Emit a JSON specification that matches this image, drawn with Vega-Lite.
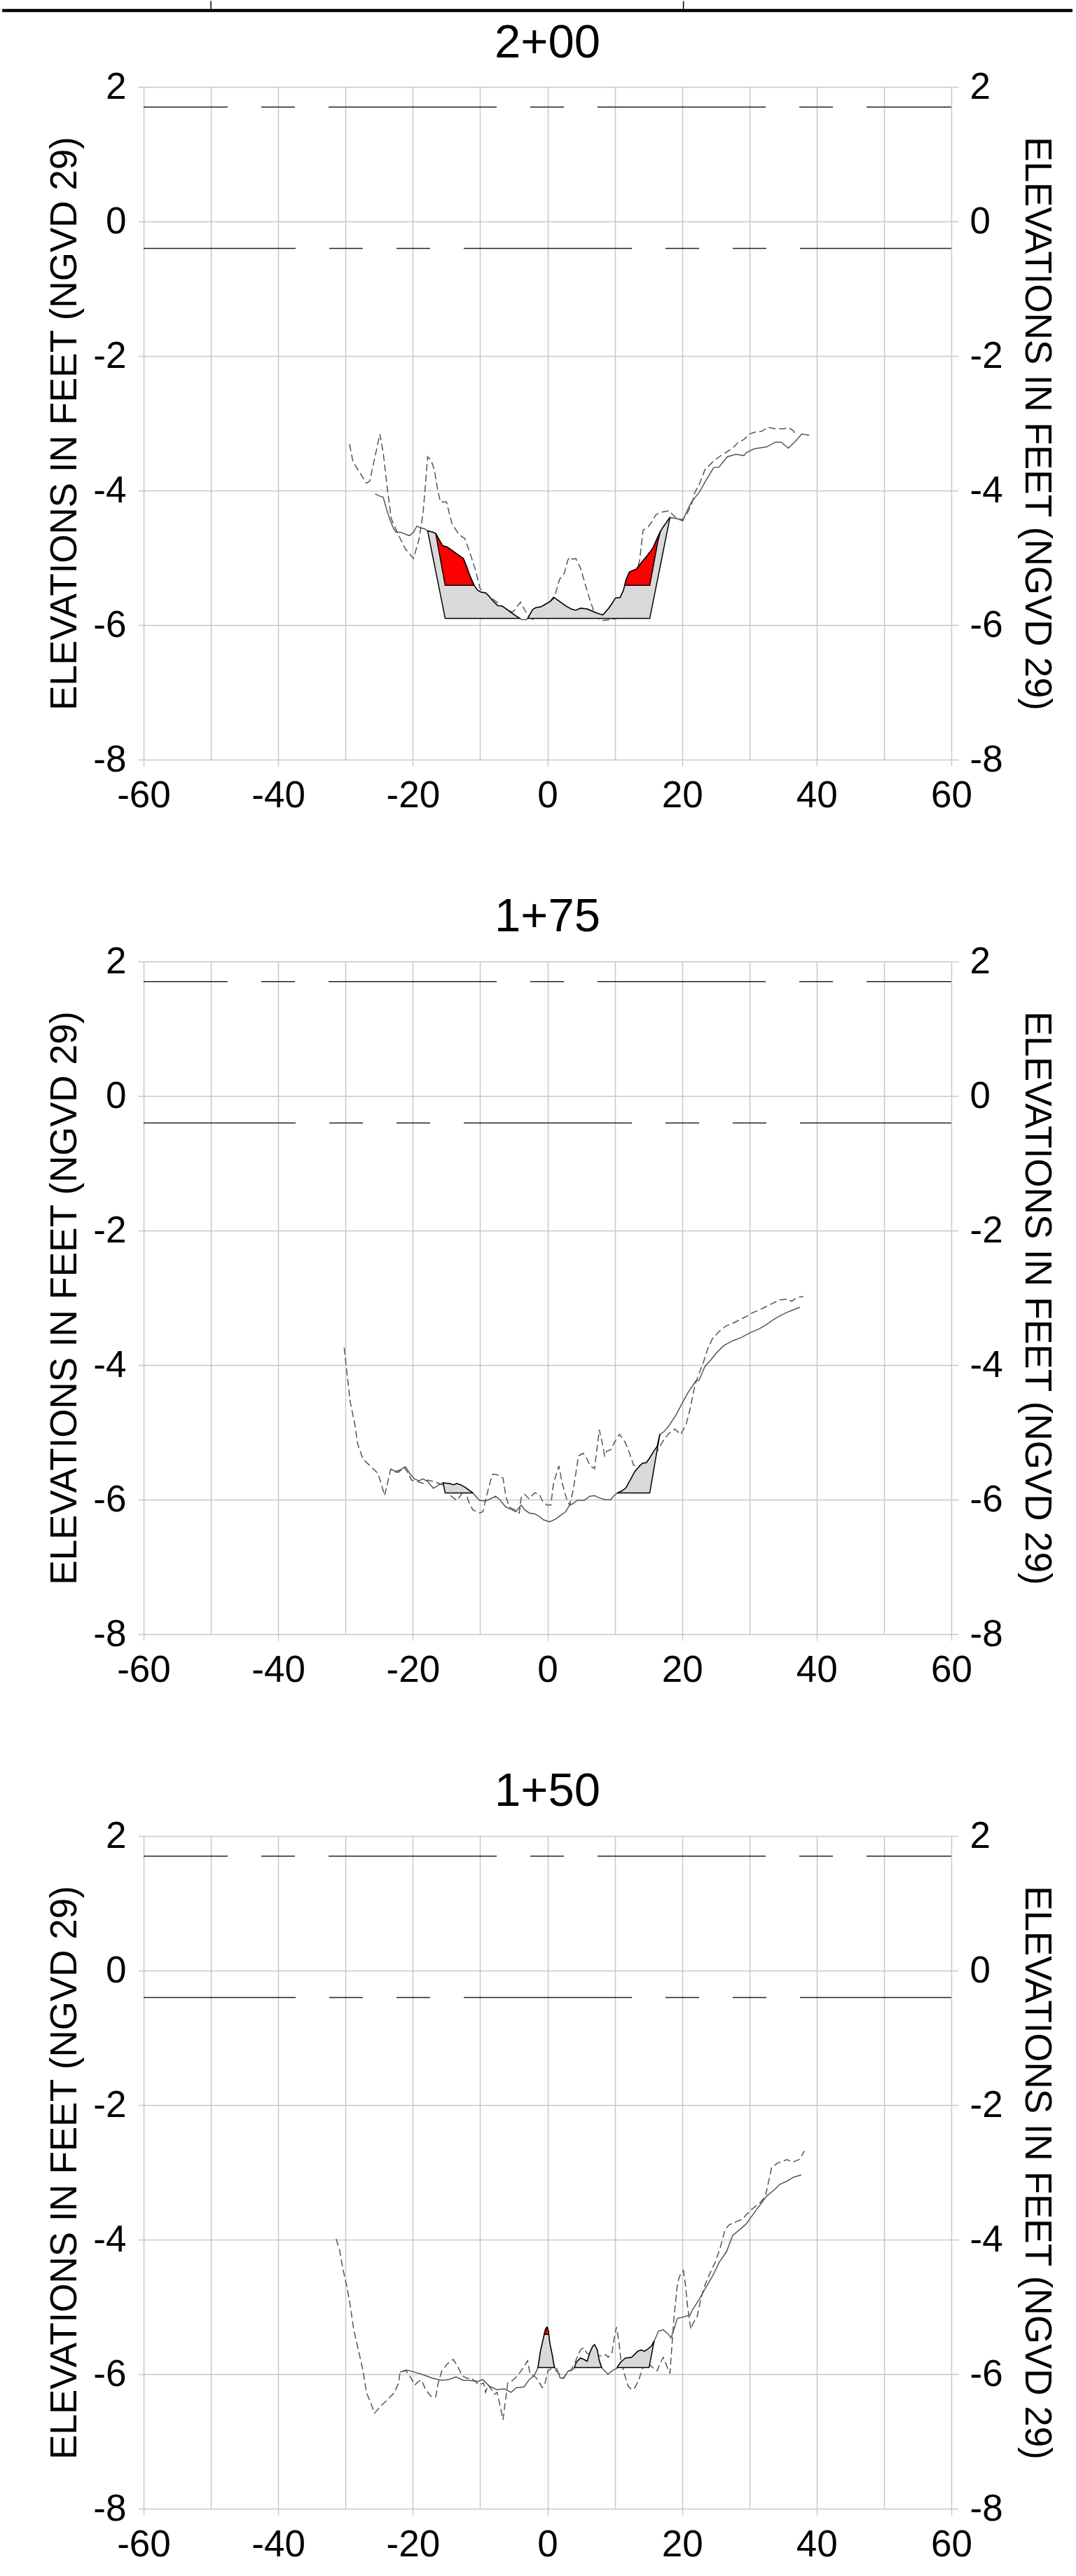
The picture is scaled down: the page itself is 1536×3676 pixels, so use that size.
{
"$schema": "https://vega.github.io/schema/vega-lite/v6.json",
"background": "white",
"padding": 0,
"spacing": 113,
"config": {
  "view": {"stroke": null},
  "font": "Liberation Sans",
  "axis": {"domain": false, "labelFont": "Liberation Sans", "labelFontSize": 53, "labelColor": "black", "titleFont": "Liberation Sans", "titleFontSize": 53, "titleFontWeight": "normal", "titleColor": "black", "gridColor": "#c8c8c8", "gridWidth": 1.5, "tickColor": "#c8c8c8", "tickWidth": 1.5, "labelFlush": false, "labelOverlap": false},
  "title": {"font": "Liberation Sans", "fontSize": 67, "fontWeight": "normal", "color": "black", "baseline": "alphabetic", "anchor": "middle", "frame": "group"}
},
"datasets": {
  "refA": [{"x": -60, "x2": 60, "y": 1.7}],
  "refB": [{"x": -60, "x2": 60, "y": -0.4}],
  "frameH": [{"x": -81.0, "x2": 78.0, "y": 3.135}],
  "frameV": [{"x": -50, "y": 3.276, "y2": 3.135}, {"x": 20.2, "y": 3.276, "y2": 3.135}],
  "p1dash": [{"x":-29.4,"y":-3.31},{"x":-28.9,"y":-3.57},{"x":-28.1,"y":-3.70},{"x":-26.9,"y":-3.89},{"x":-26.4,"y":-3.86},{"x":-24.9,"y":-3.16},{"x":-24.4,"y":-3.44},{"x":-23.75,"y":-4.0},{"x":-23.2,"y":-4.42},{"x":-22.0,"y":-4.69},{"x":-21.1,"y":-4.87},{"x":-20.5,"y":-4.94},{"x":-19.9,"y":-5.01},{"x":-19.1,"y":-4.73},{"x":-18.5,"y":-4.35},{"x":-18.2,"y":-4.0},{"x":-17.8,"y":-3.50},{"x":-17.3,"y":-3.55},{"x":-16.8,"y":-3.69},{"x":-16.3,"y":-4.0},{"x":-15.9,"y":-4.17},{"x":-15.0,"y":-4.17},{"x":-14.2,"y":-4.49},{"x":-13.3,"y":-4.63},{"x":-12.8,"y":-4.68},{"x":-12.3,"y":-4.71},{"x":-11.6,"y":-4.90},{"x":-10.7,"y":-5.18},{"x":-10.0,"y":-5.46},{"x":-8.0,"y":-5.62},{"x":-6.5,"y":-5.74},{"x":-5.2,"y":-5.81},{"x":-4.0,"y":-5.66},{"x":-3.3,"y":-5.79},{"x":-2.7,"y":-5.88},{"x":-1.9,"y":-5.93},{"x":1.1,"y":-5.56},{"x":1.8,"y":-5.32},{"x":2.5,"y":-5.23},{"x":3.0,"y":-5.04},{"x":3.3,"y":-4.99},{"x":3.7,"y":-5.02},{"x":4.2,"y":-5.01},{"x":4.9,"y":-5.15},{"x":5.4,"y":-5.32},{"x":6.1,"y":-5.56},{"x":6.8,"y":-5.77},{"x":7.7,"y":-5.91},{"x":8.0,"y":-5.93},{"x":8.5,"y":-5.93},{"x":9.8,"y":-5.91},{"x":11.0,"y":-5.89},{"x":12.2,"y":-5.55},{"x":13.0,"y":-5.28},{"x":13.7,"y":-5.04},{"x":14.2,"y":-4.59},{"x":14.9,"y":-4.55},{"x":15.6,"y":-4.45},{"x":16.1,"y":-4.36},{"x":17.0,"y":-4.32},{"x":18.1,"y":-4.30},{"x":18.6,"y":-4.36},{"x":19.3,"y":-4.42},{"x":20.1,"y":-4.43},{"x":20.7,"y":-4.35},{"x":21.4,"y":-4.21},{"x":21.9,"y":-4.03},{"x":22.6,"y":-3.90},{"x":23.4,"y":-3.69},{"x":24.3,"y":-3.60},{"x":24.8,"y":-3.55},{"x":25.5,"y":-3.50},{"x":26.4,"y":-3.44},{"x":27.4,"y":-3.38},{"x":28.3,"y":-3.29},{"x":29.2,"y":-3.24},{"x":30.0,"y":-3.16},{"x":30.9,"y":-3.13},{"x":31.8,"y":-3.12},{"x":32.8,"y":-3.06},{"x":33.7,"y":-3.08},{"x":35.1,"y":-3.08},{"x":35.9,"y":-3.07},{"x":36.5,"y":-3.11},{"x":36.9,"y":-3.17}],
  "p1solid": [{"x":-25.6,"y":-4.05},{"x":-25.0,"y":-4.08},{"x":-24.4,"y":-4.10},{"x":-23.9,"y":-4.28},{"x":-23.4,"y":-4.43},{"x":-22.9,"y":-4.56},{"x":-22.5,"y":-4.62},{"x":-21.8,"y":-4.62},{"x":-21.1,"y":-4.65},{"x":-20.5,"y":-4.67},{"x":-19.9,"y":-4.62},{"x":-19.4,"y":-4.53},{"x":-18.7,"y":-4.56},{"x":-18.2,"y":-4.57},{"x":-17.8,"y":-4.60},{"x":-17.0,"y":-4.62},{"x":-16.6,"y":-4.64},{"x":-16.1,"y":-4.73},{"x":-15.6,"y":-4.82},{"x":-14.9,"y":-4.84},{"x":-14.2,"y":-4.89},{"x":-13.5,"y":-4.94},{"x":-12.5,"y":-5.01},{"x":-12.1,"y":-5.11},{"x":-11.6,"y":-5.25},{"x":-10.9,"y":-5.41},{"x":-10.4,"y":-5.48},{"x":-9.9,"y":-5.51},{"x":-9.2,"y":-5.52},{"x":-8.6,"y":-5.58},{"x":-8.0,"y":-5.65},{"x":-7.4,"y":-5.71},{"x":-6.7,"y":-5.72},{"x":-6.0,"y":-5.77},{"x":-5.2,"y":-5.83},{"x":-4.3,"y":-5.89},{"x":-3.8,"y":-5.92},{"x":-3.1,"y":-5.92},{"x":-2.6,"y":-5.84},{"x":-2.2,"y":-5.77},{"x":-1.7,"y":-5.74},{"x":-1.0,"y":-5.73},{"x":-0.3,"y":-5.69},{"x":0.4,"y":-5.65},{"x":1.0,"y":-5.59},{"x":1.4,"y":-5.62},{"x":2.1,"y":-5.67},{"x":2.8,"y":-5.72},{"x":3.5,"y":-5.76},{"x":4.2,"y":-5.78},{"x":4.9,"y":-5.75},{"x":5.9,"y":-5.76},{"x":6.8,"y":-5.80},{"x":7.3,"y":-5.82},{"x":8.2,"y":-5.85},{"x":8.5,"y":-5.82},{"x":9.1,"y":-5.75},{"x":9.6,"y":-5.68},{"x":10.1,"y":-5.60},{"x":10.8,"y":-5.59},{"x":11.3,"y":-5.48},{"x":11.7,"y":-5.32},{"x":12.2,"y":-5.21},{"x":13.2,"y":-5.17},{"x":13.9,"y":-5.08},{"x":14.8,"y":-4.97},{"x":15.7,"y":-4.85},{"x":16.4,"y":-4.69},{"x":17.0,"y":-4.57},{"x":18.2,"y":-4.40},{"x":19.3,"y":-4.42},{"x":20.1,"y":-4.45},{"x":20.7,"y":-4.31},{"x":21.4,"y":-4.17},{"x":22.6,"y":-4.02},{"x":23.6,"y":-3.84},{"x":24.7,"y":-3.66},{"x":25.5,"y":-3.65},{"x":26.7,"y":-3.50},{"x":28.0,"y":-3.46},{"x":29.2,"y":-3.48},{"x":29.5,"y":-3.44},{"x":30.7,"y":-3.38},{"x":32.6,"y":-3.35},{"x":33.9,"y":-3.28},{"x":34.7,"y":-3.28},{"x":35.8,"y":-3.37},{"x":37.0,"y":-3.25},{"x":37.8,"y":-3.16},{"x":38.9,"y":-3.18}],
  "p1gray": [{"id":"a","x":-17.8,"y":-4.60,"y2":-4.60},{"id":"a","x":-17.0,"y":-4.62,"y2":-5.00},{"id":"a","x":-16.6,"y":-4.64,"y2":-5.20},{"id":"a","x":-16.1,"y":-4.73,"y2":-5.45},{"id":"a","x":-15.6,"y":-4.82,"y2":-5.70},{"id":"a","x":-15.2,"y":-4.83,"y2":-5.90},{"id":"a","x":-14.9,"y":-4.84,"y2":-5.90},{"id":"a","x":-14.2,"y":-4.89,"y2":-5.90},{"id":"a","x":-13.5,"y":-4.94,"y2":-5.90},{"id":"a","x":-12.5,"y":-5.01,"y2":-5.90},{"id":"a","x":-12.1,"y":-5.11,"y2":-5.90},{"id":"a","x":-11.6,"y":-5.25,"y2":-5.90},{"id":"a","x":-10.9,"y":-5.41,"y2":-5.90},{"id":"a","x":-10.4,"y":-5.48,"y2":-5.90},{"id":"a","x":-9.9,"y":-5.51,"y2":-5.90},{"id":"a","x":-9.2,"y":-5.52,"y2":-5.90},{"id":"a","x":-8.6,"y":-5.58,"y2":-5.90},{"id":"a","x":-8.0,"y":-5.65,"y2":-5.90},{"id":"a","x":-7.4,"y":-5.71,"y2":-5.90},{"id":"a","x":-6.7,"y":-5.72,"y2":-5.90},{"id":"a","x":-6.0,"y":-5.77,"y2":-5.90},{"id":"a","x":-5.2,"y":-5.83,"y2":-5.90},{"id":"a","x":-4.3,"y":-5.89,"y2":-5.90},{"id":"a","x":-4.1,"y":-5.90,"y2":-5.90},
    {"id":"b","x":-2.9,"y":-5.90,"y2":-5.90},{"id":"b","x":-2.6,"y":-5.84,"y2":-5.90},{"id":"b","x":-2.2,"y":-5.77,"y2":-5.90},{"id":"b","x":-1.7,"y":-5.74,"y2":-5.90},{"id":"b","x":-1.0,"y":-5.73,"y2":-5.90},{"id":"b","x":-0.3,"y":-5.69,"y2":-5.90},{"id":"b","x":0.4,"y":-5.65,"y2":-5.90},{"id":"b","x":1.0,"y":-5.59,"y2":-5.90},{"id":"b","x":1.4,"y":-5.62,"y2":-5.90},{"id":"b","x":2.1,"y":-5.67,"y2":-5.90},{"id":"b","x":2.8,"y":-5.72,"y2":-5.90},{"id":"b","x":3.5,"y":-5.76,"y2":-5.90},{"id":"b","x":4.2,"y":-5.78,"y2":-5.90},{"id":"b","x":4.9,"y":-5.75,"y2":-5.90},{"id":"b","x":5.9,"y":-5.76,"y2":-5.90},{"id":"b","x":6.8,"y":-5.80,"y2":-5.90},{"id":"b","x":7.3,"y":-5.82,"y2":-5.90},{"id":"b","x":8.2,"y":-5.85,"y2":-5.90},{"id":"b","x":8.5,"y":-5.82,"y2":-5.90},{"id":"b","x":9.1,"y":-5.75,"y2":-5.90},{"id":"b","x":9.6,"y":-5.68,"y2":-5.90},{"id":"b","x":10.1,"y":-5.60,"y2":-5.90},{"id":"b","x":10.8,"y":-5.59,"y2":-5.90},{"id":"b","x":11.3,"y":-5.48,"y2":-5.90},{"id":"b","x":11.7,"y":-5.32,"y2":-5.90},{"id":"b","x":12.2,"y":-5.21,"y2":-5.90},{"id":"b","x":13.2,"y":-5.17,"y2":-5.90},{"id":"b","x":13.9,"y":-5.08,"y2":-5.90},{"id":"b","x":14.8,"y":-4.97,"y2":-5.90},{"id":"b","x":15.2,"y":-4.92,"y2":-5.90},{"id":"b","x":15.7,"y":-4.85,"y2":-5.65},{"id":"b","x":16.4,"y":-4.69,"y2":-5.30},{"id":"b","x":17.0,"y":-4.57,"y2":-5.00},{"id":"b","x":18.2,"y":-4.40,"y2":-4.40}],
  "p1red": [{"id":"a","x":-16.6,"y":-4.64,"y2":-4.64},{"id":"a","x":-16.1,"y":-4.73,"y2":-4.915},{"id":"a","x":-15.6,"y":-4.82,"y2":-5.19},{"id":"a","x":-15.2,"y":-4.83,"y2":-5.41},{"id":"a","x":-14.9,"y":-4.84,"y2":-5.41},{"id":"a","x":-14.2,"y":-4.89,"y2":-5.41},{"id":"a","x":-13.5,"y":-4.94,"y2":-5.41},{"id":"a","x":-12.5,"y":-5.01,"y2":-5.41},{"id":"a","x":-12.1,"y":-5.11,"y2":-5.41},{"id":"a","x":-11.6,"y":-5.25,"y2":-5.41},{"id":"a","x":-10.9,"y":-5.41,"y2":-5.41},
    {"id":"b","x":11.5,"y":-5.41,"y2":-5.41},{"id":"b","x":11.7,"y":-5.32,"y2":-5.41},{"id":"b","x":12.2,"y":-5.21,"y2":-5.41},{"id":"b","x":13.2,"y":-5.17,"y2":-5.41},{"id":"b","x":13.9,"y":-5.08,"y2":-5.41},{"id":"b","x":14.8,"y":-4.97,"y2":-5.41},{"id":"b","x":15.2,"y":-4.92,"y2":-5.41},{"id":"b","x":15.7,"y":-4.85,"y2":-5.14},{"id":"b","x":16.4,"y":-4.69,"y2":-4.76},{"id":"b","x":16.8,"y":-4.60,"y2":-4.60}],
  "p2dash": [{"x":-30.2,"y":-3.74},{"x":-29.9,"y":-4.02},{"x":-29.3,"y":-4.55},{"x":-28.6,"y":-4.89},{"x":-28.2,"y":-5.17},{"x":-27.4,"y":-5.40},{"x":-26.2,"y":-5.51},{"x":-25.2,"y":-5.61},{"x":-24.7,"y":-5.76},{"x":-24.2,"y":-5.94},{"x":-23.7,"y":-5.73},{"x":-23.3,"y":-5.55},{"x":-22.6,"y":-5.59},{"x":-22.1,"y":-5.59},{"x":-21.3,"y":-5.52},{"x":-20.8,"y":-5.59},{"x":-20.2,"y":-5.71},{"x":-19.3,"y":-5.73},{"x":-18.5,"y":-5.76},{"x":-17.8,"y":-5.71},{"x":-16.9,"y":-5.73},{"x":-15.0,"y":-5.80},{"x":-14.4,"y":-5.94},{"x":-13.5,"y":-6.01},{"x":-12.9,"y":-5.94},{"x":-12.2,"y":-5.83},{"x":-11.8,"y":-6.01},{"x":-11.1,"y":-6.15},{"x":-10.1,"y":-6.20},{"x":-9.6,"y":-6.18},{"x":-9.2,"y":-6.01},{"x":-8.5,"y":-5.73},{"x":-8.1,"y":-5.62},{"x":-7.5,"y":-5.63},{"x":-6.6,"y":-5.68},{"x":-6.2,"y":-5.94},{"x":-5.7,"y":-6.11},{"x":-4.9,"y":-6.15},{"x":-4.2,"y":-6.20},{"x":-3.9,"y":-5.97},{"x":-3.4,"y":-5.92},{"x":-2.7,"y":-5.99},{"x":-2.3,"y":-5.94},{"x":-1.9,"y":-5.90},{"x":-1.2,"y":-5.92},{"x":-0.8,"y":-6.01},{"x":-0.1,"y":-6.08},{"x":0.5,"y":-6.08},{"x":0.9,"y":-5.76},{"x":1.7,"y":-5.50},{"x":2.2,"y":-5.76},{"x":2.9,"y":-6.01},{"x":3.3,"y":-6.08},{"x":3.8,"y":-5.87},{"x":4.2,"y":-5.62},{"x":4.6,"y":-5.35},{"x":5.3,"y":-5.31},{"x":5.9,"y":-5.40},{"x":6.3,"y":-5.49},{"x":7.0,"y":-5.54},{"x":7.4,"y":-5.21},{"x":7.7,"y":-4.96},{"x":8.1,"y":-5.14},{"x":8.5,"y":-5.35},{"x":8.8,"y":-5.28},{"x":9.4,"y":-5.26},{"x":10.0,"y":-5.14},{"x":10.7,"y":-5.03},{"x":11.5,"y":-5.14},{"x":12.2,"y":-5.31},{"x":12.8,"y":-5.49},{"x":14.5,"y":-5.50},{"x":16.3,"y":-5.28},{"x":17.1,"y":-5.14},{"x":18.0,"y":-5.02},{"x":18.9,"y":-4.95},{"x":19.8,"y":-5.03},{"x":20.6,"y":-4.88},{"x":21.2,"y":-4.65},{"x":21.9,"y":-4.30},{"x":22.5,"y":-4.13},{"x":23.2,"y":-3.95},{"x":23.8,"y":-3.76},{"x":24.5,"y":-3.61},{"x":25.5,"y":-3.50},{"x":26.5,"y":-3.42},{"x":27.5,"y":-3.38},{"x":28.5,"y":-3.33},{"x":29.5,"y":-3.28},{"x":30.5,"y":-3.22},{"x":31.5,"y":-3.18},{"x":32.5,"y":-3.13},{"x":33.5,"y":-3.08},{"x":34.5,"y":-3.03},{"x":35.5,"y":-3.02},{"x":36.3,"y":-3.05},{"x":37.0,"y":-3.00},{"x":38.0,"y":-2.98}],
  "p2solid": [{"x":-23.3,"y":-5.54},{"x":-22.6,"y":-5.58},{"x":-21.9,"y":-5.56},{"x":-21.1,"y":-5.51},{"x":-20.4,"y":-5.62},{"x":-19.8,"y":-5.69},{"x":-19.1,"y":-5.72},{"x":-18.5,"y":-5.69},{"x":-17.8,"y":-5.73},{"x":-16.96,"y":-5.83},{"x":-16.1,"y":-5.78},{"x":-15.5,"y":-5.75},{"x":-14.6,"y":-5.76},{"x":-13.9,"y":-5.78},{"x":-13.5,"y":-5.76},{"x":-12.9,"y":-5.78},{"x":-12.2,"y":-5.82},{"x":-11.1,"y":-5.90},{"x":-10.1,"y":-6.01},{"x":-9.2,"y":-6.02},{"x":-8.5,"y":-5.99},{"x":-7.7,"y":-5.95},{"x":-7.0,"y":-6.01},{"x":-6.2,"y":-6.11},{"x":-5.3,"y":-6.15},{"x":-4.7,"y":-6.18},{"x":-3.9,"y":-6.08},{"x":-3.4,"y":-6.15},{"x":-2.7,"y":-6.20},{"x":-1.9,"y":-6.21},{"x":-1.2,"y":-6.25},{"x":-0.6,"y":-6.30},{"x":0.3,"y":-6.33},{"x":1.2,"y":-6.29},{"x":2.0,"y":-6.23},{"x":2.7,"y":-6.18},{"x":3.3,"y":-6.08},{"x":3.8,"y":-6.06},{"x":4.4,"y":-6.01},{"x":5.5,"y":-6.01},{"x":6.3,"y":-5.95},{"x":7.0,"y":-5.94},{"x":7.6,"y":-5.97},{"x":8.5,"y":-6.00},{"x":9.4,"y":-6.00},{"x":9.8,"y":-5.95},{"x":10.4,"y":-5.90},{"x":11.1,"y":-5.87},{"x":11.7,"y":-5.82},{"x":12.4,"y":-5.69},{"x":13.0,"y":-5.58},{"x":13.7,"y":-5.50},{"x":14.1,"y":-5.46},{"x":14.7,"y":-5.45},{"x":15.2,"y":-5.38},{"x":15.8,"y":-5.28},{"x":16.3,"y":-5.21},{"x":16.7,"y":-5.03},{"x":17.3,"y":-4.99},{"x":18.0,"y":-4.91},{"x":19.1,"y":-4.74},{"x":20.1,"y":-4.55},{"x":21.0,"y":-4.39},{"x":22.1,"y":-4.23},{"x":22.5,"y":-4.23},{"x":23.4,"y":-4.02},{"x":24.3,"y":-3.92},{"x":25.1,"y":-3.82},{"x":26.2,"y":-3.71},{"x":27.5,"y":-3.64},{"x":28.8,"y":-3.59},{"x":30.1,"y":-3.52},{"x":31.5,"y":-3.46},{"x":32.5,"y":-3.40},{"x":33.5,"y":-3.33},{"x":34.5,"y":-3.27},{"x":35.5,"y":-3.22},{"x":36.5,"y":-3.18},{"x":37.5,"y":-3.14}],
  "p2gray": [{"id":"a","x":-15.5,"y":-5.75,"y2":-5.75},{"id":"a","x":-15.2,"y":-5.755,"y2":-5.90},{"id":"a","x":-14.6,"y":-5.76,"y2":-5.90},{"id":"a","x":-13.9,"y":-5.78,"y2":-5.90},{"id":"a","x":-13.5,"y":-5.76,"y2":-5.90},{"id":"a","x":-12.9,"y":-5.78,"y2":-5.90},{"id":"a","x":-12.2,"y":-5.82,"y2":-5.90},{"id":"a","x":-11.1,"y":-5.90,"y2":-5.90},
    {"id":"b","x":10.4,"y":-5.90,"y2":-5.90},{"id":"b","x":11.1,"y":-5.87,"y2":-5.90},{"id":"b","x":11.7,"y":-5.82,"y2":-5.90},{"id":"b","x":12.4,"y":-5.69,"y2":-5.90},{"id":"b","x":13.0,"y":-5.58,"y2":-5.90},{"id":"b","x":13.7,"y":-5.50,"y2":-5.90},{"id":"b","x":14.1,"y":-5.46,"y2":-5.90},{"id":"b","x":14.7,"y":-5.45,"y2":-5.90},{"id":"b","x":15.2,"y":-5.38,"y2":-5.90},{"id":"b","x":15.8,"y":-5.28,"y2":-5.55},{"id":"b","x":16.3,"y":-5.21,"y2":-5.26},{"id":"b","x":16.7,"y":-5.03,"y2":-5.03}],
  "p3dash": [{"x":-31.4,"y":-3.99},{"x":-30.9,"y":-4.15},{"x":-30.4,"y":-4.43},{"x":-29.8,"y":-4.70},{"x":-29.3,"y":-4.98},{"x":-28.8,"y":-5.33},{"x":-28.0,"y":-5.68},{"x":-27.4,"y":-5.95},{"x":-26.9,"y":-6.27},{"x":-26.2,"y":-6.44},{"x":-25.7,"y":-6.58},{"x":-24.8,"y":-6.48},{"x":-23.7,"y":-6.37},{"x":-22.8,"y":-6.28},{"x":-22.1,"y":-6.13},{"x":-21.9,"y":-5.97},{"x":-21.1,"y":-5.94},{"x":-20.5,"y":-6.02},{"x":-19.7,"y":-6.16},{"x":-19.2,"y":-6.11},{"x":-18.7,"y":-6.09},{"x":-18.1,"y":-6.23},{"x":-17.3,"y":-6.33},{"x":-16.6,"y":-6.34},{"x":-16.3,"y":-6.16},{"x":-15.7,"y":-5.95},{"x":-14.9,"y":-5.85},{"x":-14.0,"y":-5.78},{"x":-13.3,"y":-5.89},{"x":-12.7,"y":-6.02},{"x":-12.0,"y":-6.06},{"x":-11.3,"y":-6.06},{"x":-10.7,"y":-6.11},{"x":-10.2,"y":-6.16},{"x":-9.5,"y":-6.13},{"x":-9.2,"y":-6.27},{"x":-8.8,"y":-6.16},{"x":-8.3,"y":-6.23},{"x":-7.9,"y":-6.30},{"x":-7.5,"y":-6.27},{"x":-7.1,"y":-6.44},{"x":-6.6,"y":-6.68},{"x":-6.3,"y":-6.44},{"x":-5.9,"y":-6.13},{"x":-5.4,"y":-6.11},{"x":-4.8,"y":-6.06},{"x":-4.2,"y":-5.99},{"x":-3.5,"y":-5.89},{"x":-2.95,"y":-5.80},{"x":-2.6,"y":-5.99},{"x":-1.6,"y":-6.06},{"x":-0.76,"y":-6.20},{"x":-0.35,"y":-6.13},{"x":0.07,"y":-5.95},{"x":0.5,"y":-5.92},{"x":1.2,"y":-5.94},{"x":1.7,"y":-5.99},{"x":2.4,"y":-6.06},{"x":2.8,"y":-5.99},{"x":3.5,"y":-5.94},{"x":4.2,"y":-5.80},{"x":4.9,"y":-5.64},{"x":5.3,"y":-5.61},{"x":5.9,"y":-5.69},{"x":7.0,"y":-5.72},{"x":8.2,"y":-5.73},{"x":8.7,"y":-5.71},{"x":9.0,"y":-5.75},{"x":9.6,"y":-5.68},{"x":9.9,"y":-5.47},{"x":10.25,"y":-5.30},{"x":10.6,"y":-5.50},{"x":10.9,"y":-5.78},{"x":11.5,"y":-6.02},{"x":12.0,"y":-6.18},{"x":12.5,"y":-6.23},{"x":13.0,"y":-6.20},{"x":13.55,"y":-6.09},{"x":14.1,"y":-5.92},{"x":14.8,"y":-5.82},{"x":15.6,"y":-5.90},{"x":16.3,"y":-5.95},{"x":16.7,"y":-5.85},{"x":17.2,"y":-5.75},{"x":17.5,"y":-5.82},{"x":17.9,"y":-5.92},{"x":18.2,"y":-5.99},{"x":18.5,"y":-5.57},{"x":18.8,"y":-5.16},{"x":19.3,"y":-4.67},{"x":19.6,"y":-4.55},{"x":20.2,"y":-4.46},{"x":20.5,"y":-4.67},{"x":20.8,"y":-4.98},{"x":21.3,"y":-5.33},{"x":21.7,"y":-5.23},{"x":22.2,"y":-5.16},{"x":22.8,"y":-4.88},{"x":23.3,"y":-4.70},{"x":24.0,"y":-4.53},{"x":25.0,"y":-4.32},{"x":25.7,"y":-4.11},{"x":26.4,"y":-3.85},{"x":27.0,"y":-3.78},{"x":28.1,"y":-3.73},{"x":28.9,"y":-3.70},{"x":30.2,"y":-3.56},{"x":31.6,"y":-3.45},{"x":32.4,"y":-3.35},{"x":33.3,"y":-2.93},{"x":34.2,"y":-2.86},{"x":35.6,"y":-2.81},{"x":36.4,"y":-2.85},{"x":37.4,"y":-2.81},{"x":38.2,"y":-2.68}],
  "p3solid": [{"x":-21.9,"y":-5.97},{"x":-20.8,"y":-5.94},{"x":-19.7,"y":-5.97},{"x":-18.4,"y":-6.01},{"x":-17.1,"y":-6.06},{"x":-15.7,"y":-6.09},{"x":-14.7,"y":-6.08},{"x":-13.6,"y":-6.04},{"x":-12.5,"y":-6.09},{"x":-11.5,"y":-6.09},{"x":-10.4,"y":-6.11},{"x":-9.6,"y":-6.08},{"x":-8.6,"y":-6.18},{"x":-7.5,"y":-6.23},{"x":-6.4,"y":-6.22},{"x":-5.4,"y":-6.27},{"x":-4.6,"y":-6.20},{"x":-3.5,"y":-6.19},{"x":-2.7,"y":-6.08},{"x":-1.9,"y":-6.01},{"x":-1.4,"y":-5.90},{"x":-1.04,"y":-5.66},{"x":-0.5,"y":-5.42},{"x":-0.28,"y":-5.33},{"x":-0.07,"y":-5.30},{"x":0.14,"y":-5.36},{"x":0.35,"y":-5.54},{"x":0.7,"y":-5.71},{"x":0.97,"y":-5.87},{"x":1.1,"y":-5.91},{"x":1.4,"y":-5.92},{"x":1.9,"y":-6.06},{"x":2.4,"y":-6.06},{"x":3.1,"y":-5.95},{"x":3.6,"y":-5.94},{"x":4.0,"y":-5.91},{"x":4.3,"y":-5.82},{"x":4.9,"y":-5.76},{"x":5.4,"y":-5.78},{"x":5.9,"y":-5.81},{"x":6.3,"y":-5.68},{"x":6.7,"y":-5.59},{"x":7.0,"y":-5.56},{"x":7.4,"y":-5.64},{"x":7.7,"y":-5.80},{"x":8.1,"y":-5.91},{"x":9.0,"y":-6.00},{"x":9.6,"y":-5.95},{"x":10.35,"y":-5.91},{"x":10.9,"y":-5.82},{"x":11.6,"y":-5.76},{"x":12.5,"y":-5.75},{"x":12.9,"y":-5.71},{"x":13.4,"y":-5.66},{"x":13.9,"y":-5.64},{"x":14.4,"y":-5.66},{"x":14.9,"y":-5.63},{"x":15.4,"y":-5.59},{"x":15.85,"y":-5.51},{"x":16.5,"y":-5.36},{"x":17.2,"y":-5.34},{"x":17.9,"y":-5.40},{"x":18.35,"y":-5.46},{"x":18.8,"y":-5.33},{"x":19.3,"y":-5.17},{"x":19.8,"y":-5.16},{"x":21.2,"y":-5.12},{"x":21.5,"y":-5.05},{"x":22.6,"y":-4.88},{"x":23.6,"y":-4.70},{"x":24.7,"y":-4.51},{"x":25.5,"y":-4.34},{"x":26.6,"y":-4.18},{"x":27.5,"y":-3.94},{"x":28.7,"y":-3.84},{"x":29.5,"y":-3.77},{"x":30.8,"y":-3.59},{"x":31.3,"y":-3.52},{"x":32.6,"y":-3.35},{"x":33.7,"y":-3.26},{"x":34.5,"y":-3.18},{"x":35.6,"y":-3.13},{"x":36.6,"y":-3.07},{"x":37.7,"y":-3.04}],
  "p3gray": [{"id":"a","x":-1.4,"y":-5.90,"y2":-5.90},{"id":"a","x":-1.04,"y":-5.66,"y2":-5.90},{"id":"a","x":-0.5,"y":-5.42,"y2":-5.90},{"id":"a","x":-0.28,"y":-5.33,"y2":-5.90},{"id":"a","x":-0.07,"y":-5.30,"y2":-5.90},{"id":"a","x":0.14,"y":-5.36,"y2":-5.90},{"id":"a","x":0.35,"y":-5.54,"y2":-5.90},{"id":"a","x":0.7,"y":-5.71,"y2":-5.90},{"id":"a","x":0.97,"y":-5.87,"y2":-5.90},{"id":"a","x":1.05,"y":-5.90,"y2":-5.90},
    {"id":"b","x":4.0,"y":-5.90,"y2":-5.90},{"id":"b","x":4.3,"y":-5.82,"y2":-5.90},{"id":"b","x":4.9,"y":-5.76,"y2":-5.90},{"id":"b","x":5.4,"y":-5.78,"y2":-5.90},{"id":"b","x":5.9,"y":-5.81,"y2":-5.90},{"id":"b","x":6.3,"y":-5.68,"y2":-5.90},{"id":"b","x":6.7,"y":-5.59,"y2":-5.90},{"id":"b","x":7.0,"y":-5.56,"y2":-5.90},{"id":"b","x":7.4,"y":-5.64,"y2":-5.90},{"id":"b","x":7.7,"y":-5.80,"y2":-5.90},{"id":"b","x":8.05,"y":-5.90,"y2":-5.90},
    {"id":"c","x":10.35,"y":-5.90,"y2":-5.90},{"id":"c","x":10.9,"y":-5.82,"y2":-5.90},{"id":"c","x":11.6,"y":-5.76,"y2":-5.90},{"id":"c","x":12.5,"y":-5.75,"y2":-5.90},{"id":"c","x":12.9,"y":-5.71,"y2":-5.90},{"id":"c","x":13.4,"y":-5.66,"y2":-5.90},{"id":"c","x":13.9,"y":-5.64,"y2":-5.90},{"id":"c","x":14.4,"y":-5.66,"y2":-5.90},{"id":"c","x":14.9,"y":-5.63,"y2":-5.90},{"id":"c","x":15.1,"y":-5.61,"y2":-5.90},{"id":"c","x":15.4,"y":-5.59,"y2":-5.74},{"id":"c","x":15.85,"y":-5.51,"y2":-5.51}],
  "p3red": [{"id":"a","x":-0.48,"y":-5.41,"y2":-5.41},{"id":"a","x":-0.28,"y":-5.33,"y2":-5.41},{"id":"a","x":-0.07,"y":-5.30,"y2":-5.41},{"id":"a","x":0.14,"y":-5.36,"y2":-5.41},{"id":"a","x":0.2,"y":-5.41,"y2":-5.41}]
},
"vconcat": [
  {
    "title": {"text": "2+00", "offset": -95},
    "width": 1153, "height": 960,
    "resolve": {"axis": {"x": "independent", "y": "independent"}},
    "layer": [
      {"data": {"name": "refA"}, "mark": {"type": "rule", "stroke": "#222222", "strokeWidth": 1.5, "strokeDash": [240, 48, 48, 48], "strokeDashOffset": 120},
       "encoding": {
         "x": {"field": "x", "type": "quantitative", "scale": {"domain": [-60, 60], "nice": false, "zero": false}, "axis": {"title": null, "orient": "bottom", "values": [-60,-50,-40,-30,-20,-10,0,10,20,30,40,50,60], "grid": true, "tickSize": 9, "labelPadding": 16, "labelExpr": "datum.value % 20 === 0 ? '' + datum.value : ''", "tickOpacity": {"condition": {"test": "datum.value % 20 === 0", "value": 1}, "value": 0}}},
         "x2": {"field": "x2"},
         "y": {"field": "y", "type": "quantitative", "scale": {"domain": [-8, 2], "nice": false, "zero": false}, "axis": {"orient": "left", "title": "ELEVATIONS IN FEET (NGVD 29)", "values": [-8,-6,-4,-2,0,2], "grid": true, "tickSize": 8, "labelPadding": 17, "titlePadding": 13, "labelExpr": "'' + datum.value"}}}},
      {"data": {"name": "refB"}, "mark": {"type": "rule", "stroke": "#222222", "strokeWidth": 1.5, "strokeDash": [240, 48, 48, 48, 48, 48], "strokeDashOffset": 23},
       "encoding": {
         "x": {"field": "x", "type": "quantitative", "scale": {"domain": [-60, 60], "nice": false, "zero": false}, "axis": null},
         "x2": {"field": "x2"},
         "y": {"field": "y", "type": "quantitative", "scale": {"domain": [-8, 2], "nice": false, "zero": false}, "axis": {"orient": "right", "title": "ELEVATIONS IN FEET (NGVD 29)", "values": [-8,-6,-4,-2,0,2], "grid": false, "tickSize": 10, "labelPadding": 16, "titlePadding": 21, "labelExpr": "'' + datum.value"}}}},
      {"data": {"name": "p1dash"}, "mark": {"type": "line", "stroke": "#555555", "strokeWidth": 1.5, "strokeDash": [10, 5]},
       "encoding": {"x": {"field": "x", "type": "quantitative", "scale": {"domain": [-60, 60], "nice": false, "zero": false}, "axis": null}, "y": {"field": "y", "type": "quantitative", "scale": {"domain": [-8, 2], "nice": false, "zero": false}, "axis": null}}},
      {"data": {"name": "p1solid"}, "mark": {"type": "line", "stroke": "#555555", "strokeWidth": 1.5},
       "encoding": {"x": {"field": "x", "type": "quantitative", "scale": {"domain": [-60, 60], "nice": false, "zero": false}, "axis": null}, "y": {"field": "y", "type": "quantitative", "scale": {"domain": [-8, 2], "nice": false, "zero": false}, "axis": null}}},
      {"data": {"name": "p1gray"}, "mark": {"type": "area", "fill": "#d9d9d9", "fillOpacity": 1, "stroke": "black", "strokeWidth": 1.5, "strokeJoin": "round"},
       "encoding": {"x": {"field": "x", "type": "quantitative", "scale": {"domain": [-60, 60], "nice": false, "zero": false}, "axis": null}, "y": {"field": "y", "type": "quantitative", "scale": {"domain": [-8, 2], "nice": false, "zero": false}, "axis": null}, "y2": {"field": "y2"}, "detail": {"field": "id"}}},
      {"data": {"name": "p1red"}, "mark": {"type": "area", "fill": "#ff0000", "fillOpacity": 1, "stroke": "black", "strokeWidth": 1.5, "strokeJoin": "round"},
       "encoding": {"x": {"field": "x", "type": "quantitative", "scale": {"domain": [-60, 60], "nice": false, "zero": false}, "axis": null}, "y": {"field": "y", "type": "quantitative", "scale": {"domain": [-8, 2], "nice": false, "zero": false}, "axis": null}, "y2": {"field": "y2"}, "detail": {"field": "id"}}},
      {"data": {"name": "frameH"}, "mark": {"type": "rule", "stroke": "black", "strokeWidth": 4.5},
       "encoding": {"x": {"field": "x", "type": "quantitative", "scale": {"domain": [-60, 60], "nice": false, "zero": false}, "axis": null}, "x2": {"field": "x2"}, "y": {"field": "y", "type": "quantitative", "scale": {"domain": [-8, 2], "nice": false, "zero": false}, "axis": null}}},
      {"data": {"name": "frameV"}, "mark": {"type": "rule", "stroke": "black", "strokeWidth": 1.5},
       "encoding": {"x": {"field": "x", "type": "quantitative", "scale": {"domain": [-60, 60], "nice": false, "zero": false}, "axis": null}, "y": {"field": "y", "type": "quantitative", "scale": {"domain": [-8, 2], "nice": false, "zero": false}, "axis": null}, "y2": {"field": "y2"}}}
    ]
  },
  {
    "title": {"text": "1+75", "offset": 3},
    "width": 1153, "height": 960,
    "resolve": {"axis": {"x": "independent", "y": "independent"}},
    "layer": [
      {"data": {"name": "refA"}, "mark": {"type": "rule", "stroke": "#222222", "strokeWidth": 1.5, "strokeDash": [240, 48, 48, 48], "strokeDashOffset": 120},
       "encoding": {
         "x": {"field": "x", "type": "quantitative", "scale": {"domain": [-60, 60], "nice": false, "zero": false}, "axis": {"title": null, "orient": "bottom", "values": [-60,-50,-40,-30,-20,-10,0,10,20,30,40,50,60], "grid": true, "tickSize": 9, "labelPadding": 16, "labelExpr": "datum.value % 20 === 0 ? '' + datum.value : ''", "tickOpacity": {"condition": {"test": "datum.value % 20 === 0", "value": 1}, "value": 0}}},
         "x2": {"field": "x2"},
         "y": {"field": "y", "type": "quantitative", "scale": {"domain": [-8, 2], "nice": false, "zero": false}, "axis": {"orient": "left", "title": "ELEVATIONS IN FEET (NGVD 29)", "values": [-8,-6,-4,-2,0,2], "grid": true, "tickSize": 8, "labelPadding": 17, "titlePadding": 13, "labelExpr": "'' + datum.value"}}}},
      {"data": {"name": "refB"}, "mark": {"type": "rule", "stroke": "#222222", "strokeWidth": 1.5, "strokeDash": [240, 48, 48, 48, 48, 48], "strokeDashOffset": 23},
       "encoding": {
         "x": {"field": "x", "type": "quantitative", "scale": {"domain": [-60, 60], "nice": false, "zero": false}, "axis": null},
         "x2": {"field": "x2"},
         "y": {"field": "y", "type": "quantitative", "scale": {"domain": [-8, 2], "nice": false, "zero": false}, "axis": {"orient": "right", "title": "ELEVATIONS IN FEET (NGVD 29)", "values": [-8,-6,-4,-2,0,2], "grid": false, "tickSize": 10, "labelPadding": 16, "titlePadding": 21, "labelExpr": "'' + datum.value"}}}},
      {"data": {"name": "p2dash"}, "mark": {"type": "line", "stroke": "#555555", "strokeWidth": 1.5, "strokeDash": [10, 5]},
       "encoding": {"x": {"field": "x", "type": "quantitative", "scale": {"domain": [-60, 60], "nice": false, "zero": false}, "axis": null}, "y": {"field": "y", "type": "quantitative", "scale": {"domain": [-8, 2], "nice": false, "zero": false}, "axis": null}}},
      {"data": {"name": "p2solid"}, "mark": {"type": "line", "stroke": "#555555", "strokeWidth": 1.5},
       "encoding": {"x": {"field": "x", "type": "quantitative", "scale": {"domain": [-60, 60], "nice": false, "zero": false}, "axis": null}, "y": {"field": "y", "type": "quantitative", "scale": {"domain": [-8, 2], "nice": false, "zero": false}, "axis": null}}},
      {"data": {"name": "p2gray"}, "mark": {"type": "area", "fill": "#d9d9d9", "fillOpacity": 1, "stroke": "black", "strokeWidth": 1.5, "strokeJoin": "round"},
       "encoding": {"x": {"field": "x", "type": "quantitative", "scale": {"domain": [-60, 60], "nice": false, "zero": false}, "axis": null}, "y": {"field": "y", "type": "quantitative", "scale": {"domain": [-8, 2], "nice": false, "zero": false}, "axis": null}, "y2": {"field": "y2"}, "detail": {"field": "id"}}}
    ]
  },
  {
    "title": {"text": "1+50", "offset": 3},
    "width": 1153, "height": 960,
    "resolve": {"axis": {"x": "independent", "y": "independent"}},
    "layer": [
      {"data": {"name": "refA"}, "mark": {"type": "rule", "stroke": "#222222", "strokeWidth": 1.5, "strokeDash": [240, 48, 48, 48], "strokeDashOffset": 120},
       "encoding": {
         "x": {"field": "x", "type": "quantitative", "scale": {"domain": [-60, 60], "nice": false, "zero": false}, "axis": {"title": null, "orient": "bottom", "values": [-60,-50,-40,-30,-20,-10,0,10,20,30,40,50,60], "grid": true, "tickSize": 9, "labelPadding": 16, "labelExpr": "datum.value % 20 === 0 ? '' + datum.value : ''", "tickOpacity": {"condition": {"test": "datum.value % 20 === 0", "value": 1}, "value": 0}}},
         "x2": {"field": "x2"},
         "y": {"field": "y", "type": "quantitative", "scale": {"domain": [-8, 2], "nice": false, "zero": false}, "axis": {"orient": "left", "title": "ELEVATIONS IN FEET (NGVD 29)", "values": [-8,-6,-4,-2,0,2], "grid": true, "tickSize": 8, "labelPadding": 17, "titlePadding": 13, "labelExpr": "'' + datum.value"}}}},
      {"data": {"name": "refB"}, "mark": {"type": "rule", "stroke": "#222222", "strokeWidth": 1.5, "strokeDash": [240, 48, 48, 48, 48, 48], "strokeDashOffset": 23},
       "encoding": {
         "x": {"field": "x", "type": "quantitative", "scale": {"domain": [-60, 60], "nice": false, "zero": false}, "axis": null},
         "x2": {"field": "x2"},
         "y": {"field": "y", "type": "quantitative", "scale": {"domain": [-8, 2], "nice": false, "zero": false}, "axis": {"orient": "right", "title": "ELEVATIONS IN FEET (NGVD 29)", "values": [-8,-6,-4,-2,0,2], "grid": false, "tickSize": 10, "labelPadding": 16, "titlePadding": 21, "labelExpr": "'' + datum.value"}}}},
      {"data": {"name": "p3dash"}, "mark": {"type": "line", "stroke": "#555555", "strokeWidth": 1.5, "strokeDash": [10, 5]},
       "encoding": {"x": {"field": "x", "type": "quantitative", "scale": {"domain": [-60, 60], "nice": false, "zero": false}, "axis": null}, "y": {"field": "y", "type": "quantitative", "scale": {"domain": [-8, 2], "nice": false, "zero": false}, "axis": null}}},
      {"data": {"name": "p3solid"}, "mark": {"type": "line", "stroke": "#555555", "strokeWidth": 1.5},
       "encoding": {"x": {"field": "x", "type": "quantitative", "scale": {"domain": [-60, 60], "nice": false, "zero": false}, "axis": null}, "y": {"field": "y", "type": "quantitative", "scale": {"domain": [-8, 2], "nice": false, "zero": false}, "axis": null}}},
      {"data": {"name": "p3gray"}, "mark": {"type": "area", "fill": "#d9d9d9", "fillOpacity": 1, "stroke": "black", "strokeWidth": 1.5, "strokeJoin": "round"},
       "encoding": {"x": {"field": "x", "type": "quantitative", "scale": {"domain": [-60, 60], "nice": false, "zero": false}, "axis": null}, "y": {"field": "y", "type": "quantitative", "scale": {"domain": [-8, 2], "nice": false, "zero": false}, "axis": null}, "y2": {"field": "y2"}, "detail": {"field": "id"}}},
      {"data": {"name": "p3red"}, "mark": {"type": "area", "fill": "#ff0000", "fillOpacity": 1, "stroke": "black", "strokeWidth": 1.5, "strokeJoin": "round"},
       "encoding": {"x": {"field": "x", "type": "quantitative", "scale": {"domain": [-60, 60], "nice": false, "zero": false}, "axis": null}, "y": {"field": "y", "type": "quantitative", "scale": {"domain": [-8, 2], "nice": false, "zero": false}, "axis": null}, "y2": {"field": "y2"}, "detail": {"field": "id"}}}
    ]
  }
]
}
